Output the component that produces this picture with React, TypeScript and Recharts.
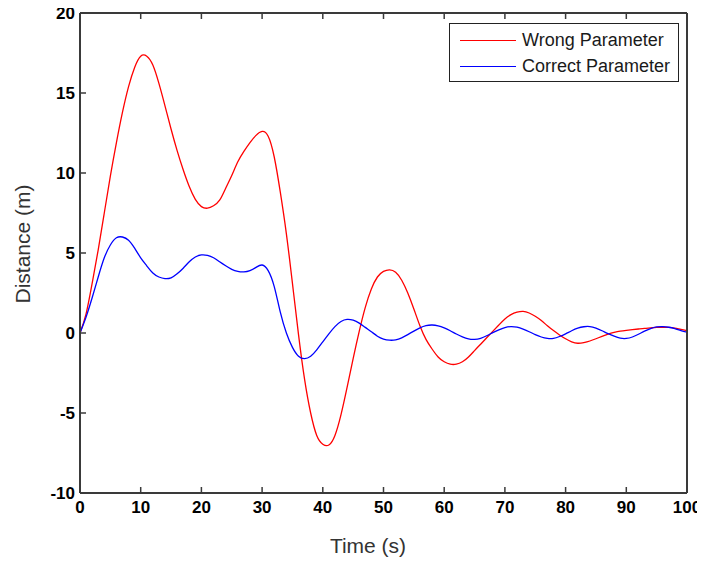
import React from 'react';
import { LineChart, Line, XAxis, YAxis, Legend } from 'recharts';

// Sample times (s)
const time = [
  0, 1, 2, 3, 4, 5, 6, 7, 8, 9,
  10, 11, 12, 13, 14, 15, 16, 17, 18, 19,
  20, 21, 22, 23, 24, 25, 26, 27, 28, 29,
  30, 31, 32, 33, 34, 35, 36, 37, 38, 39,
  40, 41, 42, 43, 44, 45, 46, 47, 48, 49,
  50, 51, 52, 53, 54, 55, 56, 57, 58, 59,
  60, 61, 62, 63, 64, 65, 66, 67, 68, 69,
  70, 71, 72, 73, 74, 75, 76, 77, 78, 79,
  80, 81, 82, 83, 84, 85, 86, 87, 88, 89,
  90, 91, 92, 93, 94, 95, 96, 97, 98, 99,
  100,
];

// Distance (m) with the wrong parameter
const wrongParameter = [
  0, 1.2, 3.1, 5.2, 7.5, 9.8, 11.9, 13.8, 15.4, 16.6,
  17.3, 17.3, 16.75, 15.6, 14.2, 12.75, 11.4, 10.2, 9.15, 8.35,
  7.9, 7.8, 7.95, 8.3, 9.05, 9.85, 10.7, 11.35, 11.9, 12.35,
  12.6, 12.3, 11.0, 8.8, 6.2, 3.1, -0.1, -2.9, -5.0, -6.4,
  -6.95, -7.0, -6.4, -5.1, -3.4, -1.6, 0.1, 1.6, 2.75, 3.5,
  3.85, 3.95, 3.8, 3.3, 2.5, 1.5, 0.45, -0.4, -1.0, -1.5,
  -1.8, -1.95, -1.95, -1.8, -1.5, -1.1, -0.7, -0.3, 0.1, 0.5,
  0.88, 1.15, 1.3, 1.35, 1.25, 1.05, 0.78, 0.45, 0.15, -0.12,
  -0.36, -0.55, -0.64, -0.6, -0.5, -0.36, -0.21, -0.07, 0.04, 0.12,
  0.17, 0.21, 0.25, 0.29, 0.32, 0.35, 0.36, 0.35, 0.3, 0.22,
  0.15,
];

// Distance (m) with the correct parameter
const correctParameter = [
  0, 1.0, 2.2, 3.5, 4.7, 5.5, 5.95, 6.0, 5.8, 5.3,
  4.7, 4.2, 3.75, 3.5, 3.4, 3.45, 3.7, 4.05, 4.45, 4.75,
  4.88, 4.85, 4.7, 4.45, 4.2, 3.98, 3.85, 3.82, 3.9, 4.1,
  4.25, 3.9, 2.9, 1.3, 0.0, -0.9, -1.45, -1.6, -1.45, -1.05,
  -0.55, -0.05, 0.4, 0.72, 0.85, 0.8, 0.62, 0.35, 0.08, -0.2,
  -0.38, -0.45, -0.43, -0.3, -0.1, 0.12, 0.32, 0.46, 0.5, 0.45,
  0.32, 0.14, -0.06, -0.24, -0.37, -0.4, -0.33, -0.17, 0.02, 0.2,
  0.34, 0.4, 0.36, 0.24, 0.08, -0.1, -0.25, -0.34, -0.34, -0.22,
  -0.05, 0.14, 0.3, 0.39, 0.4, 0.3, 0.14, -0.04, -0.2, -0.32,
  -0.34, -0.25, -0.08, 0.12, 0.28, 0.38, 0.4, 0.36, 0.27, 0.15,
  0.05,
];

const xTicks = [0, 10, 20, 30, 40, 50, 60, 70, 80, 90, 100];
const yTicks = [-10, -5, 0, 5, 10, 15, 20];

const seriesNames = ['Wrong Parameter', 'Correct Parameter'];
const seriesColors = ['#ff0000', '#0000ff'];

const data = time.map((t, i) => ({
  t,
  wrong: wrongParameter[i],
  correct: correctParameter[i],
}));

const AXIS_COLOR = '#3a3a3a';
const FONT = '"Liberation Sans", Arial, sans-serif';
const tickFont = {
  fontFamily: FONT,
  fontWeight: 700,
  fontSize: 17,
  fill: '#000',
};
const blank = () => '';

const LegendBox = () => (
  <div
    style={{
      width: 230,
      height: 59,
      border: '1px solid #222',
      background: '#fff',
      boxSizing: 'border-box',
      fontFamily: FONT,
      fontSize: 18,
      color: '#1a1a1a',
      position: 'relative',
    }}
  >
    {seriesNames.map((name, i) => (
      <div
        key={name}
        style={{
          position: 'absolute',
          left: 10,
          top: 5 + i * 26,
          height: 22,
          display: 'flex',
          alignItems: 'center',
          whiteSpace: 'nowrap',
        }}
      >
        <span
          style={{
            display: 'inline-block',
            width: 56,
            height: 0,
            borderTop: `1.5px solid ${seriesColors[i]}`,
            marginRight: 6,
          }}
        />
        <span>{name}</span>
      </div>
    ))}
  </div>
);

export default function App() {
  return (
    <div style={{ marginTop: -8, marginLeft: -8, width: 705, height: 564 }}>
      <LineChart
        width={705}
        height={564}
        data={data}
        margin={{ top: 12, right: 17, bottom: 0, left: 20 }}
      >
        <XAxis
          dataKey="t"
          type="number"
          domain={[0, 100]}
          ticks={xTicks}
          interval={0}
          height={71}
          stroke={AXIS_COLOR}
          strokeWidth={2}
          tickSize={-6}
          tickMargin={14}
          tick={tickFont}
          tickLine={{ stroke: AXIS_COLOR, strokeWidth: 1.5 }}
          label={{
            content: () => (
              <text
                x={368}
                y={553}
                textAnchor="middle"
                fontFamily={FONT}
                fontSize={21}
                fill="#333"
              >
                Time (s)
              </text>
            ),
          }}
        />
        <XAxis
          xAxisId="top"
          orientation="top"
          dataKey="t"
          type="number"
          domain={[0, 100]}
          ticks={xTicks}
          interval={0}
          height={1}
          stroke={AXIS_COLOR}
          strokeWidth={2}
          tickSize={-6}
          tickFormatter={blank}
          tickLine={{ stroke: AXIS_COLOR, strokeWidth: 1.5 }}
        />
        <YAxis
          type="number"
          domain={[-10, 20]}
          ticks={yTicks}
          interval={0}
          width={60}
          stroke={AXIS_COLOR}
          strokeWidth={2}
          tickSize={-6}
          tickMargin={11}
          tick={tickFont}
          tickLine={{ stroke: AXIS_COLOR, strokeWidth: 1.5 }}
          label={{
            content: () => (
              <text
                x={30}
                y={244}
                transform="rotate(-90 30 244)"
                textAnchor="middle"
                fontFamily={FONT}
                fontSize={21}
                fill="#333"
              >
                Distance (m)
              </text>
            ),
          }}
        />
        <YAxis
          yAxisId="right"
          orientation="right"
          type="number"
          domain={[-10, 20]}
          ticks={yTicks}
          interval={0}
          width={1}
          stroke={AXIS_COLOR}
          strokeWidth={2}
          tickSize={-6}
          tickFormatter={blank}
          tickLine={{ stroke: AXIS_COLOR, strokeWidth: 1.5 }}
        />
        <Legend
          layout="horizontal"
          verticalAlign="middle"
          align="center"
          wrapperStyle={{ left: 449, top: 23, width: 230 }}
          content={() => <LegendBox />}
        />
        <Line
          dataKey="wrong"
          name={seriesNames[0]}
          type="natural"
          stroke={seriesColors[0]}
          strokeWidth={1.3}
          dot={false}
          activeDot={false}
          isAnimationActive={false}
        />
        <Line
          dataKey="correct"
          name={seriesNames[1]}
          type="natural"
          stroke={seriesColors[1]}
          strokeWidth={1.3}
          dot={false}
          activeDot={false}
          isAnimationActive={false}
        />
      </LineChart>
    </div>
  );
}
